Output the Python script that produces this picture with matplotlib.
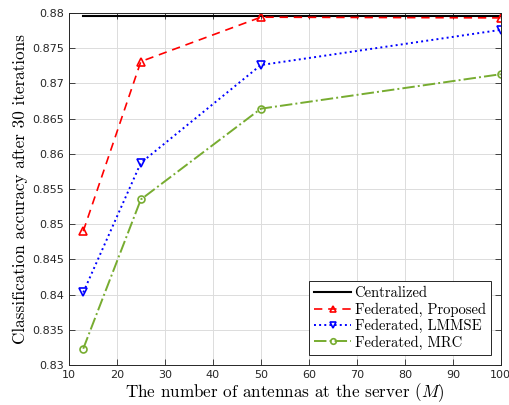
import matplotlib
matplotlib.use('Agg')
import matplotlib.pyplot as plt

# number of antennas at the server
antennas = [13, 25, 50, 100]

centralized = [0.8795, 0.8795, 0.8795, 0.8795]
proposed = [0.8490, 0.8731, 0.8794, 0.8793]
lmmse = [0.8403, 0.8587, 0.8726, 0.8776]
mrc = [0.8323, 0.8535, 0.8664, 0.8713]

x_ticks = [10, 20, 30, 40, 50, 60, 70, 80, 90, 100]
y_ticks = [0.83, 0.835, 0.84, 0.845, 0.85, 0.855, 0.86, 0.865, 0.87, 0.875, 0.88]
y_ticklabels = ['0.83', '0.835', '0.84', '0.845', '0.85', '0.855', '0.86', '0.865', '0.87', '0.875', '0.88']

plt.rcParams['mathtext.fontset'] = 'cm'
label_font = {'family': 'cmr10', 'size': 12.3}

fig = plt.figure(figsize=(5.1, 4.05), dpi=100)
ax = fig.add_axes([0.135, 0.099, 0.847, 0.869])

green = (0.466, 0.674, 0.188)
ax.plot(antennas, centralized, color='black', linestyle='-', linewidth=1.5, label='Centralized')
ax.plot(antennas, proposed, color='red', linestyle=(0, (5, 3.5)), linewidth=1.2,
        marker='^', markersize=6, markerfacecolor='none', markeredgewidth=1.2,
        label='Federated, Proposed')
ax.plot(antennas, lmmse, color='blue', linestyle=':', linewidth=1.4,
        marker='v', markersize=6, markerfacecolor='none', markeredgewidth=1.2,
        label='Federated, LMMSE')
ax.plot(antennas, mrc, color=green, linestyle='-.', linewidth=1.4,
        marker='o', markersize=5, markerfacecolor='none', markeredgewidth=1.2,
        label='Federated, MRC')

ax.set_xlim(10, 100)
ax.set_ylim(0.83, 0.88)
ax.set_xticks(x_ticks)
ax.set_yticks(y_ticks)
ax.set_yticklabels(y_ticklabels)
ax.tick_params(direction='in', top=True, right=True, labelsize=8, colors='#262626',
               length=4, width=0.6)
for s in ax.spines.values():
    s.set_color('#262626')
    s.set_linewidth(0.7)
ax.grid(True, color='#dcdcdc', linewidth=0.7)
ax.set_axisbelow(True)

ax.set_xlabel(r'The number of antennas at the server ($M$)', fontdict=label_font, labelpad=1)
ax.set_ylabel('Classification accuracy after 30 iterations', fontdict=label_font, labelpad=3)

leg = ax.legend(loc='lower right', prop={'family': 'cmr10', 'size': 10.5}, numpoints=1,
                handlelength=2.5, handletextpad=0.25, borderaxespad=0.7, fancybox=False,
                framealpha=1, edgecolor='#262626', borderpad=0.35, labelspacing=0.15,
                markerscale=0.8)
leg.get_frame().set_linewidth(0.7)

fig.savefig('out.png', dpi=100)
